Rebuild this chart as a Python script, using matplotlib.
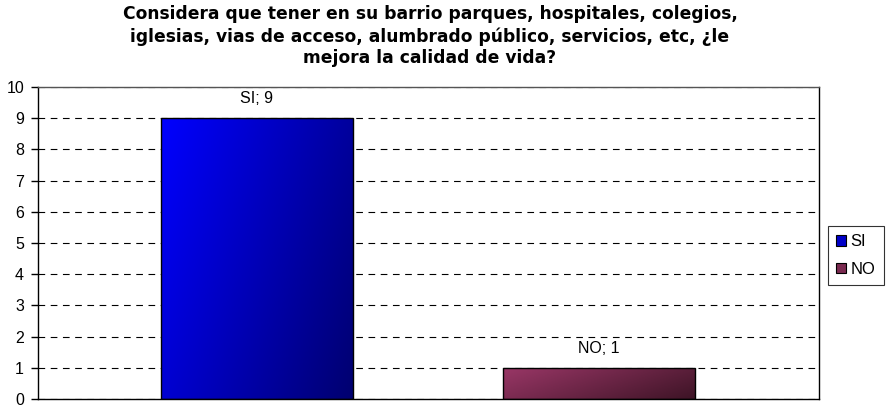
import numpy as np
import matplotlib.pyplot as plt
from matplotlib.colors import LinearSegmentedColormap
from matplotlib.patches import Patch

plt.rcParams['font.family'] = ['Liberation Sans', 'DejaVu Sans']

# datos
categorias = ['SI', 'NO']
valores = [9, 1]
colores_claros = ['#0000ff', '#9a3767']
colores_oscuros = ['#000070', '#3e1426']
colores_leyenda = ['#0000c8', '#7a2a50']

titulo = ('Considera que tener en su barrio parques, hospitales, colegios,\n'
          'iglesias, vias de acceso, alumbrado público, servicios, etc, ¿le\n'
          'mejora la calidad de vida?')

fig = plt.figure(figsize=(8.87, 4.08), dpi=100)
ax = fig.add_axes([38/887, 1 - 399/408, 781/887, 312/408])

x = np.arange(len(categorias))
ancho = 0.561
barras = ax.bar(x, valores, width=ancho, color='none', edgecolor='black', linewidth=1, zorder=3)

# degradado en cada barra
for b, c1, c2 in zip(barras, colores_claros, colores_oscuros):
    cmap = LinearSegmentedColormap.from_list('g', [c1, c2])
    xx, yy = np.meshgrid(np.linspace(0, 1, 100), np.linspace(0, 1, 100))
    grad = 0.75 * xx + 0.35 * (1 - yy)
    x0, y0 = b.get_x(), b.get_y()
    im = ax.imshow(grad, cmap=cmap, aspect='auto', origin='lower',
                   extent=[x0, x0 + b.get_width(), y0, y0 + b.get_height()],
                   vmin=0, vmax=1.1, zorder=2)
    im.set_clip_path(b)

for xi, v, cat in zip(x, valores, categorias):
    ax.text(xi, v + 0.38, f'{cat}; {v}', ha='center', va='bottom', fontsize=11.5, zorder=4)

ax.set_xlim(-0.640, 1.643)
ax.set_ylim(0, 10)
ax.set_yticks(range(0, 11))
ax.set_xticks([])
ax.tick_params(axis='y', labelsize=11.5, length=5, pad=5, direction='out', width=1)
ax.yaxis.grid(True, linestyle=(0, (6, 5)), color='black', linewidth=0.8, zorder=1)
for s in ax.spines.values():
    s.set_linewidth(1)
ax.spines['top'].set_color('#555555')

fig.text(430/887, 1 - 5/408, titulo, ha='center', va='top', fontsize=12.3,
         fontweight='bold', family='DejaVu Sans', linespacing=1.28)

handles = [Patch(facecolor=c, edgecolor='black', linewidth=0.8) for c in colores_leyenda]
leg = fig.legend(handles, categorias, loc='upper left', bbox_to_anchor=(828/887, 1 - 226/408),
                 fontsize=12, frameon=True, fancybox=False, edgecolor='black',
                 handlelength=0.6, handleheight=0.6, handletextpad=0.25,
                 borderpad=0.5, labelspacing=0.75, borderaxespad=0)
leg.get_frame().set_linewidth(0.8)

fig.savefig('out.png', dpi=100)
